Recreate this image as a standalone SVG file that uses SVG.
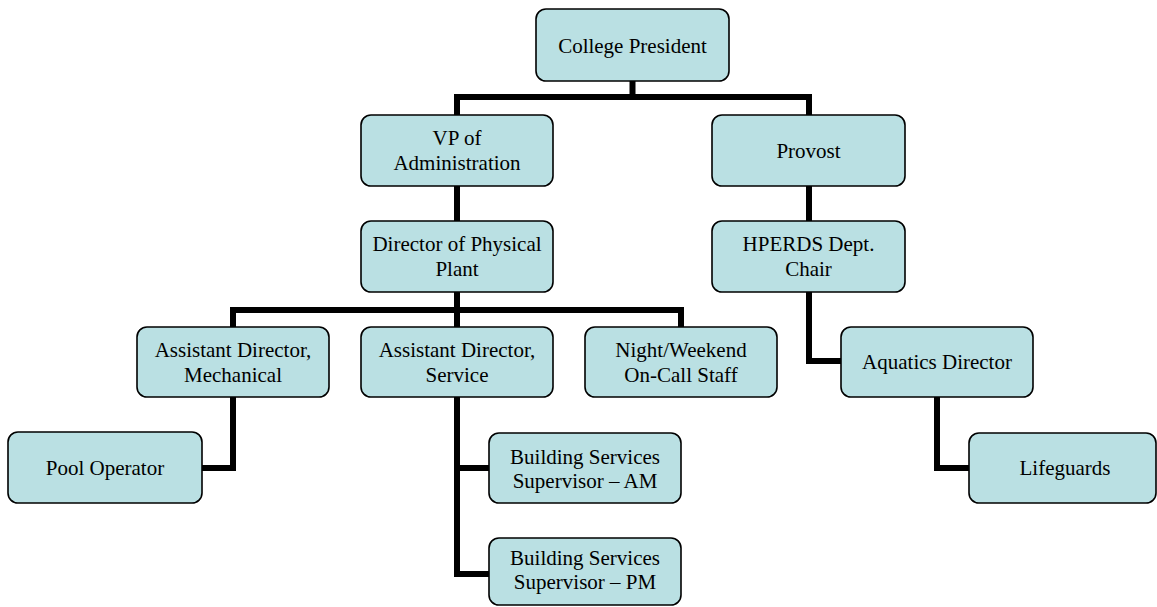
<svg xmlns="http://www.w3.org/2000/svg" width="1157" height="607" viewBox="0 0 1157 607">
<style>
.box{fill:#BAE0E3;stroke:#000;stroke-width:1.6}
.t{font-family:"Liberation Serif","Times New Roman",serif;font-size:21px;fill:#000;text-anchor:middle}
.c{fill:none;stroke:#000;stroke-width:6;stroke-linejoin:miter;stroke-linecap:butt}
</style>
<rect width="1157" height="607" fill="#fff"/>
<g id="connectors">
<path class="c" d="M632.5 81V97M457 118V97H809V118"/>
<path class="c" d="M457 186V221"/>
<path class="c" d="M809 186V221"/>
<path class="c" d="M457 292V327M233 330V310H681V330"/>
<path class="c" d="M809 292V361H843"/>
<path class="c" d="M233 397V468H200"/>
<path class="c" d="M457 397V574H491M457 468H491"/>
<path class="c" d="M937 397V468H971"/>
</g>
<g id="college-president"><rect class="box" x="536" y="9" width="193" height="72" rx="10"/><text class="t" x="632.5" y="52.5">College President</text></g>
<g id="vp-administration"><rect class="box" x="361" y="115" width="192" height="71" rx="10"/><text class="t" x="457" y="145">VP of</text><text class="t" x="457" y="170">Administration</text></g>
<g id="provost"><rect class="box" x="712" y="115" width="193" height="71" rx="10"/><text class="t" x="808.5" y="157.5">Provost</text></g>
<g id="director-physical-plant"><rect class="box" x="361" y="221" width="192" height="71" rx="10"/><text class="t" x="457" y="251">Director of Physical</text><text class="t" x="457" y="276">Plant</text></g>
<g id="hperds-chair"><rect class="box" x="712" y="221" width="193" height="71" rx="10"/><text class="t" x="808.5" y="251">HPERDS Dept.</text><text class="t" x="808.5" y="276">Chair</text></g>
<g id="ad-mechanical"><rect class="box" x="137" y="327" width="192" height="70" rx="10"/><text class="t" x="233" y="356.5">Assistant Director,</text><text class="t" x="233" y="381.5">Mechanical</text></g>
<g id="ad-service"><rect class="box" x="361" y="327" width="192" height="70" rx="10"/><text class="t" x="457" y="356.5">Assistant Director,</text><text class="t" x="457" y="381.5">Service</text></g>
<g id="night-weekend"><rect class="box" x="585" y="327" width="192" height="70" rx="10"/><text class="t" x="681" y="356.5">Night/Weekend</text><text class="t" x="681" y="381.5">On-Call Staff</text></g>
<g id="aquatics-director"><rect class="box" x="841" y="327" width="192" height="70" rx="10"/><text class="t" x="937" y="369">Aquatics Director</text></g>
<g id="pool-operator"><rect class="box" x="8" y="432" width="194" height="71" rx="10"/><text class="t" x="105" y="474.5">Pool Operator</text></g>
<g id="bs-am"><rect class="box" x="489" y="433" width="192" height="70" rx="10"/><text class="t" x="585" y="463.5">Building Services</text><text class="t" x="585" y="487.5">Supervisor – AM</text></g>
<g id="bs-pm"><rect class="box" x="489" y="538" width="192" height="67" rx="10"/><text class="t" x="585" y="565">Building Services</text><text class="t" x="585" y="589">Supervisor – PM</text></g>
<g id="lifeguards"><rect class="box" x="969" y="433" width="187" height="70" rx="10"/><text class="t" x="1065" y="475">Lifeguards</text></g>
</svg>
